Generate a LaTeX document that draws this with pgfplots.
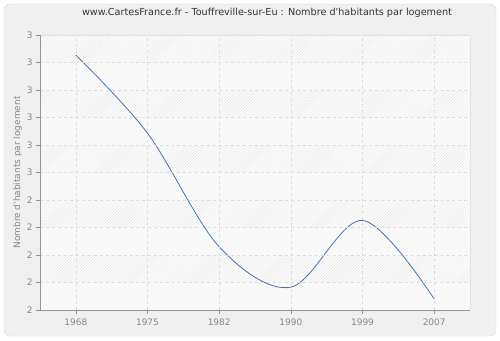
\documentclass[border=0pt]{standalone}
\usepackage{pgfplots}
\pgfplotsset{compat=1.18}
\usepackage{fontspec}
\setmainfont{DejaVu Sans}
\usetikzlibrary{patterns}
\definecolor{linec}{RGB}{74,114,170}
\definecolor{outerbg}{RGB}{240,240,240}
\definecolor{outerbd}{RGB}{220,220,220}
\definecolor{tickc}{RGB}{136,136,136}
\definecolor{axisc}{RGB}{150,150,150}
\definecolor{gridc}{RGB}{222,222,222}
\definecolor{plotbg}{RGB}{249,249,249}
\definecolor{hatchbg}{RGB}{254,254,254}
\definecolor{framec}{RGB}{228,228,228}
\begin{document}
\begin{tikzpicture}[x=1bp,y=1bp]
\fill[white] (-40,-30) rectangle (460,310);
\filldraw[fill=outerbg, draw=outerbd, rounded corners=6bp] (-36,-26) rectangle (456,306);
\begin{axis}[
  at={(0,0)}, anchor=south west,
  axis on top,
  scale only axis, width=430bp, height=275bp,
  xmin=-0.5, xmax=5.5, ymin=2, ymax=3,
  xtick={0,1,2,3,4,5},
  xticklabels={1968,1975,1982,1990,1999,2007},
  ytick={2,2.1,2.2,2.3,2.4,2.5,2.6,2.7,2.8,2.9,3},
  yticklabels={2,2,2,2,2,3,3,3,3,3,3},
  axis lines=left,
  axis line style={-, draw=axisc},
  tick style={draw=axisc},
  tick align=outside,
  major tick length=4bp,
  grid=major,
  major grid style={dashed, draw=gridc},
  tick label style={font=\fontsize{9}{10}\selectfont, text=tickc},
  xticklabel style={yshift=-1bp},
  title={www.CartesFrance.fr - Touffreville-sur-Eu : Nombre d\textquotesingle habitants par logement},
  title style={font=\fontsize{9.7}{11}\selectfont, text=black!80, at={(0.5,1)}, anchor=south, yshift=8bp, xshift=12bp},
  ylabel={Nombre d\textquotesingle habitants par logement},
  ylabel style={font=\fontsize{9}{10}\selectfont, text=tickc, yshift=-2bp},
  axis background/.style={fill=hatchbg, postaction={pattern=north east lines, pattern color=black!10}},
  clip=false,
]
\fill[plotbg] (axis cs:-0.5,2.0) rectangle (axis cs:5.5,2.1);
\fill[plotbg] (axis cs:-0.5,2.2) rectangle (axis cs:5.5,2.3);
\fill[plotbg] (axis cs:-0.5,2.4) rectangle (axis cs:5.5,2.5);
\fill[plotbg] (axis cs:-0.5,2.6) rectangle (axis cs:5.5,2.7);
\fill[plotbg] (axis cs:-0.5,2.8) rectangle (axis cs:5.5,2.9);
\draw[draw=framec] (axis cs:-0.5,3) -- (axis cs:5.5,3) -- (axis cs:5.5,2);
\addplot[linec, line width=0.8bp, smooth, tension=0.55] coordinates {
  (0,2.927) (1,2.643) (2,2.230) (3,2.083) (4,2.326) (5,2.040)
};
\end{axis}
\end{tikzpicture}
\end{document}
